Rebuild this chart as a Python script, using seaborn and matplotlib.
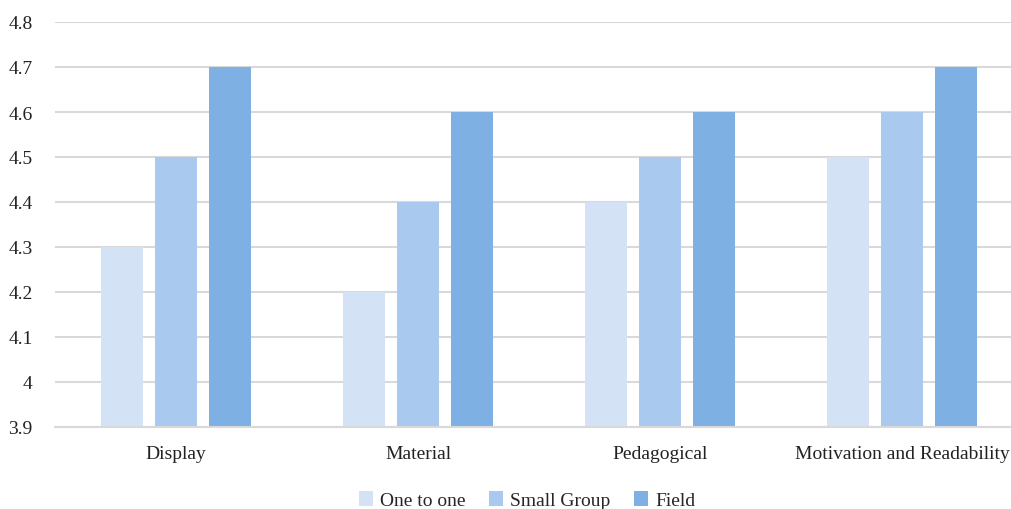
import matplotlib
matplotlib.use("Agg")
import matplotlib.pyplot as plt
import seaborn as sns
import pandas as pd

categories = ["Display", "Material", "Pedagogical", "Motivation and Readability"]
series_names = ["One to one", "Small Group", "Field"]
one_to_one = [4.3, 4.2, 4.4, 4.5]
small_group = [4.5, 4.4, 4.5, 4.6]
field = [4.7, 4.6, 4.6, 4.7]
y_ticks = [3.9, 4.0, 4.1, 4.2, 4.3, 4.4, 4.5, 4.6, 4.7, 4.8]
y_tick_labels = ["3.9", "4", "4.1", "4.2", "4.3", "4.4", "4.5", "4.6", "4.7", "4.8"]
colors = ["#D3E3F5", "#A9CAEE", "#7EB0E4"]

rows = []
for name, vals in zip(series_names, [one_to_one, small_group, field]):
    for cat, v in zip(categories, vals):
        rows.append({"Category": cat, "Series": name, "Score": v})
df = pd.DataFrame(rows)

sns.set_theme(style="white")
plt.rcParams["font.family"] = ["Liberation Serif", "DejaVu Serif"]

fig = plt.figure(figsize=(10.11, 5.10), dpi=100)
ax = fig.add_axes([55 / 1011, 82 / 510, 968 / 1011, 405 / 510])

sns.barplot(data=df, x="Category", y="Score", hue="Series", order=categories,
            hue_order=series_names, palette=colors, width=0.669, gap=0.222,
            saturation=1, linewidth=0, edgecolor="none", ax=ax, legend=True)

# bars start from the axis floor rather than zero
for patch in ax.patches:
    h = patch.get_height()
    if h > 0:
        patch.set_y(3.9)
        patch.set_height(h - 3.9)

ax.set_ylim(3.9, 4.8)
ax.set_xlim(-0.5, 3.5)
ax.set_yticks(y_ticks)
ax.set_yticklabels(y_tick_labels, fontsize=14, color="#222222")
ax.tick_params(axis="y", length=0, pad=16)
ax.tick_params(axis="x", length=0, pad=13, labelsize=14, labelcolor="#222222")
ax.set_xlabel("")
ax.set_ylabel("")
ax.yaxis.grid(True, color="#D9D9D9", linewidth=1.5)
ax.set_axisbelow(True)
for side in ["top", "right", "left"]:
    ax.spines[side].set_visible(False)
ax.spines["bottom"].set_color("#D9D9D9")
ax.spines["bottom"].set_linewidth(1.5)

handles, labels = ax.get_legend_handles_labels()
ax.legend_.remove()
fig.legend(handles, labels, loc="lower center", bbox_to_anchor=(527 / 1011, -0.035),
           ncol=3, frameon=False, fontsize=14, handlelength=0.75, handleheight=0.75,
           handletextpad=0.35, columnspacing=1.2)

fig.savefig("out.png", dpi=100)
